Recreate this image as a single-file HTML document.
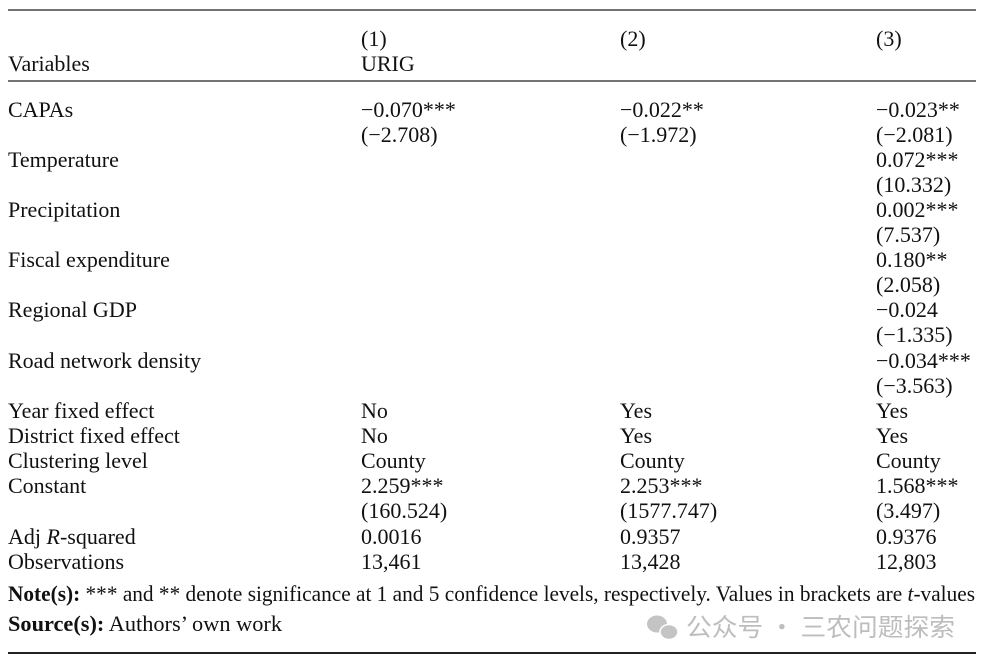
<!DOCTYPE html>
<html><head><meta charset="utf-8"><style>
html,body{margin:0;padding:0;background:#fff;}
svg{display:block}
text{font-family:"Liberation Serif",serif;font-size:22px;fill:#111;}
</style></head><body>
<svg width="985" height="666" xmlns="http://www.w3.org/2000/svg">
<line x1="8" y1="10" x2="976" y2="10" stroke="#222" stroke-width="1.3"/>
<line x1="8" y1="81" x2="976" y2="81" stroke="#222" stroke-width="1.3"/>
<line x1="8" y1="653" x2="976" y2="653" stroke="#222" stroke-width="2"/>
<text x="361" y="46">(1)</text><text x="620" y="46">(2)</text><text x="876" y="46">(3)</text>
<text x="8" y="71">Variables</text><text x="361" y="71">URIG</text>

<text x="8" y="117">CAPAs</text>
<text x="361" y="117">−0.070***</text><text x="620" y="117">−0.022**</text><text x="876" y="117">−0.023**</text>
<text x="361" y="142">(−2.708)</text><text x="620" y="142">(−1.972)</text><text x="876" y="142">(−2.081)</text>

<text x="8" y="167">Temperature</text><text x="876" y="167">0.072***</text><text x="876" y="192">(10.332)</text>
<text x="8" y="217">Precipitation</text><text x="876" y="217">0.002***</text><text x="876" y="242">(7.537)</text>
<text x="8" y="267">Fiscal expenditure</text><text x="876" y="267">0.180**</text><text x="876" y="292">(2.058)</text>
<text x="8" y="317">Regional GDP</text><text x="876" y="317">−0.024</text><text x="876" y="342">(−1.335)</text>
<text x="8" y="368">Road network density</text><text x="876" y="368">−0.034***</text><text x="876" y="393">(−3.563)</text>

<text x="8" y="418">Year fixed effect</text><text x="361" y="418">No</text><text x="620" y="418">Yes</text><text x="876" y="418">Yes</text>
<text x="8" y="443">District fixed effect</text><text x="361" y="443">No</text><text x="620" y="443">Yes</text><text x="876" y="443">Yes</text>
<text x="8" y="468">Clustering level</text><text x="361" y="468">County</text><text x="620" y="468">County</text><text x="876" y="468">County</text>
<text x="8" y="493">Constant</text><text x="361" y="493">2.259***</text><text x="620" y="493">2.253***</text><text x="876" y="493">1.568***</text>
<text x="361" y="518">(160.524)</text><text x="620" y="518">(1577.747)</text><text x="876" y="518">(3.497)</text>
<text x="8" y="544">Adj <tspan font-style="italic">R</tspan>-squared</text><text x="361" y="544">0.0016</text><text x="620" y="544">0.9357</text><text x="876" y="544">0.9376</text>
<text x="8" y="569">Observations</text><text x="361" y="569">13,461</text><text x="620" y="569">13,428</text><text x="876" y="569">12,803</text>

<text x="8" y="601" textLength="967" lengthAdjust="spacingAndGlyphs"><tspan font-weight="bold">Note(s):</tspan> *** and ** denote significance at 1 and 5 confidence levels, respectively. Values in brackets are <tspan font-style="italic">t</tspan>-values</text>
<text x="8" y="631" textLength="274" lengthAdjust="spacingAndGlyphs"><tspan font-weight="bold">Source(s):</tspan> Authors’ own work</text>

<g fill="#c4c4c4">
<ellipse cx="657" cy="624" rx="10" ry="8.5"/>
<ellipse cx="669" cy="632" rx="9" ry="7.5" stroke="#fff" stroke-width="1.5"/>
</g>
<text x="686" y="636" textLength="269" lengthAdjust="spacingAndGlyphs" style="font-family:'Noto Sans CJK SC',sans-serif;font-size:25px;fill:#bdbdbd">公众号 · 三农问题探索</text>
</svg>
</body></html>
